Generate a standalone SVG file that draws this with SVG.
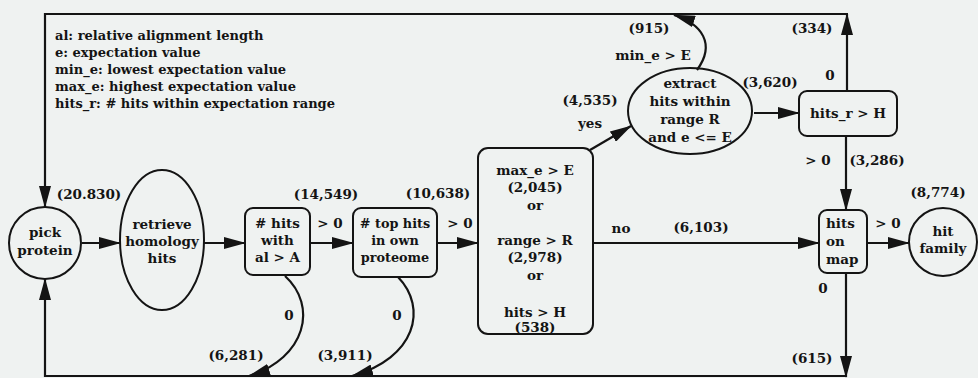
<svg xmlns="http://www.w3.org/2000/svg" width="978" height="378" viewBox="0 0 978 378">
<style>
text{font-family:"DejaVu Serif","Liberation Serif",serif;font-weight:bold;font-size:13.5px;fill:#141414;text-anchor:middle}
.leg{text-anchor:start;font-size:13px}
.lft{text-anchor:start}
.sm{font-size:12.8px}
.ln{fill:none;stroke:#141414;stroke-width:2.2}
.shape{fill:none;stroke:#141414;stroke-width:2}
</style>
<defs>
<marker id="ah" markerUnits="userSpaceOnUse" markerWidth="22" markerHeight="12" refX="21" refY="6" orient="auto">
<path d="M0,0 L22,6 L0,12 z" fill="#141414"/>
</marker>
</defs>
<rect width="978" height="378" fill="#eff2f1"/>
<g id="legend">
<text class="leg" x="55" y="40">al: relative alignment length</text>
<text class="leg" x="55" y="57">e: expectation value</text>
<text class="leg" x="55" y="74">min_e: lowest expectation value</text>
<text class="leg" x="55" y="91">max_e: highest expectation value</text>
<text class="leg" x="55" y="108">hits_r: # hits within expectation range</text>
</g>
<g id="connectors">
<path class="ln" d="M848,14 L45,14 L45,207" marker-end="url(#ah)"/>
<path class="ln" d="M846,376 L45,376 L45,279" marker-end="url(#ah)"/>
<path class="ln" d="M82,243 L120,243" marker-end="url(#ah)"/>
<path class="ln" d="M204,243 L245,243" marker-end="url(#ah)"/>
<path class="ln" d="M310,243 L353,243" marker-end="url(#ah)"/>
<path class="ln" d="M437,243 L478,243" marker-end="url(#ah)"/>
<path class="ln" d="M593,243 L819,243" marker-end="url(#ah)"/>
<path class="ln" d="M590,150 L631,126" marker-end="url(#ah)"/>
<path class="ln" d="M754,113 L799,113" marker-end="url(#ah)"/>
<path class="ln" d="M847,91 L847,14" marker-end="url(#ah)"/>
<path class="ln" d="M697,70 C716,44 702,24 674,15" marker-end="url(#ah)"/>
<path class="ln" d="M846,136 L846,210" marker-end="url(#ah)"/>
<path class="ln" d="M867,243 L909,243" marker-end="url(#ah)"/>
<path class="ln" d="M846,273 L846,377" marker-end="url(#ah)"/>
<path class="ln" d="M285,276 C318,306 306,358 249,376" marker-end="url(#ah)"/>
<path class="ln" d="M398,277 C428,308 416,358 352,376" marker-end="url(#ah)"/>
<text x="89" y="199">(20.830)</text>
<text x="326" y="199">(14,549)</text>
<text x="330" y="228">&gt; 0</text>
<text x="438" y="198">(10,638)</text>
<text x="460" y="228">&gt; 0</text>
<text x="621" y="233">no</text>
<text x="701" y="232">(6,103)</text>
<text x="590" y="105">(4,535)</text>
<text x="590" y="128">yes</text>
<text x="649" y="33">(915)</text>
<text x="653" y="60">min_e &gt; E</text>
<text x="770" y="87">(3,620)</text>
<text x="812" y="33">(334)</text>
<text x="830" y="80">0</text>
<text x="818" y="165">&gt; 0</text>
<text x="877" y="165">(3,286)</text>
<text x="938" y="197">(8,774)</text>
<text x="888" y="228">&gt; 0</text>
<text x="823" y="293">0</text>
<text x="812" y="363">(615)</text>
<text x="289" y="320">0</text>
<text x="236" y="360">(6,281)</text>
<text x="397" y="320">0</text>
<text x="345" y="360">(3,911)</text>
</g>
<g id="pick-protein">
<circle class="shape" cx="45" cy="243" r="36"/>
<text x="45" y="237">pick</text>
<text x="45" y="255">protein</text>
</g>
<g id="retrieve-homology-hits">
<ellipse class="shape" cx="162" cy="240" rx="42" ry="70"/>
<text x="162" y="229">retrieve</text>
<text x="162" y="246">homology</text>
<text x="162" y="263">hits</text>
</g>
<g id="hits-with-al">
<rect class="shape" x="245" y="208" width="65" height="67" rx="8"/>
<text x="277.5" y="228"># hits</text>
<text x="277.5" y="245">with</text>
<text x="277.5" y="262">al &gt; A</text>
</g>
<g id="top-hits-own-proteome">
<rect class="shape" x="353" y="208" width="84" height="69" rx="8"/>
<text class="sm" x="395" y="228"># top hits</text>
<text class="sm" x="395" y="245">in own</text>
<text class="sm" x="395" y="262">proteome</text>
</g>
<g id="range-check">
<rect class="shape" x="478" y="148" width="115" height="186" rx="10"/>
<text x="535" y="175">max_e &gt; E</text>
<text x="535" y="192">(2,045)</text>
<text x="535" y="210">or</text>
<text x="535" y="245">range &gt; R</text>
<text x="535" y="262">(2,978)</text>
<text x="535" y="280">or</text>
<text x="535" y="317">hits &gt; H</text>
<text x="535" y="332">(538)</text>
</g>
<g id="extract-hits">
<ellipse class="shape" cx="690" cy="111" rx="62" ry="43"/>
<text x="690" y="88">extract</text>
<text x="690" y="106">hits within</text>
<text x="690" y="124">range R</text>
<text x="690" y="142">and e &lt;= E</text>
</g>
<g id="hits-r-check">
<rect class="shape" x="799" y="91" width="98" height="45" rx="8"/>
<text x="848" y="118">hits_r &gt; H</text>
</g>
<g id="hits-on-map">
<rect class="shape" x="819" y="210" width="48" height="63" rx="8"/>
<text class="lft" x="826" y="228">hits</text>
<text class="lft" x="826" y="246">on</text>
<text class="lft" x="826" y="264">map</text>
</g>
<g id="hit-family">
<circle class="shape" cx="943" cy="242" r="34"/>
<text x="943" y="236">hit</text>
<text x="943" y="253">family</text>
</g>
</svg>
